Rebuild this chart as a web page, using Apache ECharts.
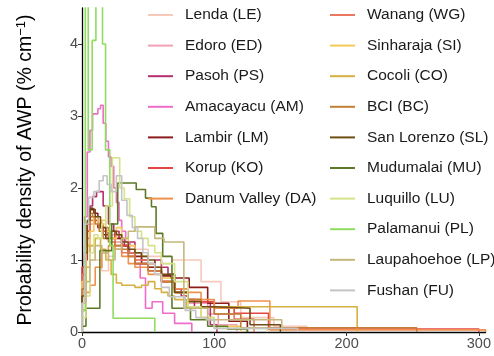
<!DOCTYPE html>
<html>
<head>
<meta charset="utf-8">
<script src="https://cdn.jsdelivr.net/npm/echarts@6/dist/echarts.min.js"></script>
<style>
  html, body { margin: 0; padding: 0; background: #fff; }
  #chart { width: 494px; height: 356px; }
</style>
</head>
<body>
<div id="chart"></div>
<script>
// site names and colours, legend order
const siteNames = ['Lenda (LE)', 'Edoro (ED)', 'Pasoh (PS)', 'Amacayacu (AM)', 'Lambir (LM)', 'Korup (KO)',
  'Danum Valley (DA)', 'Wanang (WG)', 'Sinharaja (SI)', 'Cocoli (CO)', 'BCI (BC)', 'San Lorenzo (SL)',
  'Mudumalai (MU)', 'Luquillo (LU)', 'Palamanui (PL)', 'Laupahoehoe (LP)', 'Fushan (FU)'];
const siteColors = ['#f7c9bb', '#f2a0b6', '#b52e6e', '#ef6dc8', '#8c1c1c', '#e64545',
  '#f0904e', '#e8785e', '#f6c85a', '#d6b040', '#c47e36', '#6e4c14',
  '#5c7a26', '#d6e28a', '#90dc60', '#c4b87a', '#c4c4c4'];

// bin edges (AWP, cm) and densities (% cm-1) for each site
const leEdges = [0, 3, 6, 10, 15, 20, 25, 30, 40, 50, 60, 68, 90, 105, 120, 145, 170];
const leDens = [0.5, 0.9, 1.2, 1.0, 0.85, 1.05, 1.25, 1.2, 1.15, 1.05, 0.95, 1.0, 0.7, 0.42, 0.2, 0.08];

const edEdges = [0, 3, 6, 9, 12, 16, 20, 25, 30, 35, 40, 50, 60, 70, 80, 95, 103, 117];
const edDens = [0.6, 1.2, 1.5, 1.6, 1.5, 1.4, 1.35, 1.25, 1.2, 1.1, 1.0, 0.9, 0.7, 0.55, 0.4, 0.25, 0.1];

const psEdges = [0, 2, 4, 6, 8, 11, 16, 20, 24, 28, 32, 36, 40, 45, 50, 55, 60, 65, 70, 75, 80, 85, 90, 97, 102];
const psDens = [0.5, 1.0, 1.5, 1.75, 1.88, 1.95, 1.75, 1.5, 1.4, 1.3, 1.2, 1.25, 1.1, 1.0, 0.95, 1.0, 0.9, 0.8, 0.6, 0.5, 0.45, 0.35, 0.42, 0.1];

const amEdges = [0, 2, 4, 6, 8, 10, 12, 14, 16, 18, 20, 22, 24, 26, 28, 30, 33, 36, 40, 44, 48, 53, 61, 70, 83];
const amDens = [0.6, 1.6, 2.5, 2.8, 3.03, 3.03, 3.1, 3.15, 2.9, 2.65, 2.43, 2.3, 2.0, 1.8, 1.55, 1.4, 1.25, 1.1, 0.95, 0.75, 0.33, 0.42, 0.26, 0.12];

const lmEdges = [0, 3, 6, 9, 12, 16, 20, 25, 30, 35, 40, 45, 50, 55, 60, 67, 81, 95, 111, 125];
const lmDens = [0.8, 1.5, 1.7, 1.65, 1.45, 1.35, 1.4, 1.3, 1.2, 1.1, 1.05, 0.95, 0.9, 0.85, 0.78, 0.75, 0.62, 0.4, 0.15];

const koEdges = [0, 3, 6, 9, 12, 16, 20, 25, 30, 35, 40, 50, 60, 70, 80, 90, 100, 115, 141, 300];
const koDens = [0.9, 1.4, 1.6, 1.55, 1.5, 1.4, 1.3, 1.35, 1.2, 1.05, 0.95, 0.85, 0.7, 0.6, 0.45, 0.42, 0.35, 0.26, 0.04];

const daEdges = [0, 3, 6, 10, 15, 20, 25, 30, 35, 40, 50, 60, 70, 80, 90, 100, 118, 142, 305];
const daDens = [0.3, 0.55, 0.65, 0.9, 1.1, 1.2, 1.15, 1.05, 0.95, 0.9, 0.8, 0.7, 0.6, 0.55, 0.45, 0.33, 0.43, 0.03];

const wgEdges = [0, 3, 6, 9, 12, 16, 20, 25, 30, 40, 50, 60, 70, 80, 90, 100, 115, 130];
const wgDens = [0.8, 1.3, 1.55, 1.6, 1.5, 1.45, 1.3, 1.2, 1.1, 1.0, 0.85, 0.7, 0.55, 0.45, 0.35, 0.25, 0.18];

const siEdges = [0, 3, 6, 9, 12, 15, 18, 22, 26, 30, 35, 40, 45, 50, 55, 60, 70, 80, 90, 100, 120];
const siDens = [0.7, 1.2, 1.4, 1.6, 1.5, 1.55, 1.4, 1.3, 1.45, 1.3, 1.2, 1.1, 1.05, 0.95, 0.9, 0.75, 0.55, 0.35, 0.2, 0.08];

const coEdges = [0, 3, 6, 10, 14, 18, 22, 26, 30, 35, 40, 45, 50, 55, 60, 65, 70, 79, 208];
const coDens = [0.5, 0.9, 1.2, 1.3, 1.15, 1.0, 0.8, 0.68, 0.65, 0.65, 0.62, 0.65, 0.7, 0.6, 0.55, 0.5, 0.45, 0.35];

const bcEdges = [0, 2, 4, 6, 8, 10, 13, 16, 20, 25, 30, 35, 40, 50, 60, 70, 80, 90, 100, 120, 253];
const bcDens = [0.6, 1.2, 1.5, 1.65, 1.6, 1.5, 1.4, 1.3, 1.25, 1.2, 1.15, 1.05, 0.95, 0.85, 0.7, 0.55, 0.45, 0.35, 0.25, 0.06];

const slEdges = [0, 2, 4, 6, 8, 10, 14, 18, 22, 26, 30, 35, 40, 45, 50, 55, 60, 70, 80, 90, 100, 127, 150];
const slDens = [0.5, 1.1, 1.55, 1.72, 1.7, 1.6, 1.45, 1.3, 1.4, 1.35, 1.25, 1.15, 1.1, 1.05, 1.0, 0.9, 0.8, 0.55, 0.42, 0.35, 0.33, 0.1];

const muEdges = [0, 3, 13.5, 22.5, 27, 41, 48, 52.5, 56, 61, 68, 82, 95, 110, 125];
const muDens = [0.08, 0.33, 1.13, 1.5, 2.07, 1.98, 1.86, 1.74, 1.37, 1.05, 0.33, 0.17, 0.08, 0.04];

const luEdges = [0, 3, 6, 9, 12, 15, 18, 23, 28.5, 32, 36, 40, 45, 50, 55, 60, 70, 80, 90, 100, 140];
const luDens = [0.2, 0.5, 1.1, 1.35, 1.3, 1.5, 1.75, 2.42, 2.0, 1.85, 1.6, 1.4, 1.3, 1.2, 1.1, 0.95, 0.7, 0.35, 0.2, 0.05];

const plEdges = [0, 2.5, 4.7, 7.7, 10.5, 15.5, 17.8, 21, 23.5, 55];
const plDens = [0.3, 5.5, 2.53, 4.05, 6.0, 4.0, 2.53, 1.2, 0.19];

const lpEdges = [0, 3, 6, 10, 15, 20, 25, 30, 35, 40, 55, 62, 77, 95, 151];
const lpDens = [0.4, 0.7, 1.0, 1.2, 1.1, 1.0, 1.15, 1.3, 1.4, 1.46, 1.3, 1.25, 0.33, 0.17];

const fuEdges = [0, 2, 5, 9, 13, 16, 19, 22, 26, 30, 34, 38, 42, 46, 50, 55, 60, 66, 72, 78, 86, 94, 100, 163];
const fuDens = [0.4, 1.5, 1.87, 1.95, 2.1, 2.17, 2.05, 1.95, 2.17, 1.83, 1.62, 1.45, 1.3, 1.1, 0.95, 0.8, 0.62, 0.49, 0.49, 0.3, 0.2, 0.17, 0.05];

const siteEdges = [leEdges, edEdges, psEdges, amEdges, lmEdges, koEdges, daEdges, wgEdges, siEdges,
  coEdges, bcEdges, slEdges, muEdges, luEdges, plEdges, lpEdges, fuEdges];
const siteDens = [leDens, edDens, psDens, amDens, lmDens, koDens, daDens, wgDens, siDens,
  coDens, bcDens, slDens, muDens, luDens, plDens, lpDens, fuDens];

const xTicks = [0, 100, 200, 300];
const yTicks = [0, 1, 2, 3, 4];

// histogram outline: rise at first edge, one point per bin, drop at last edge
function stepData(edges, dens) {
  const pts = [[edges[0], 0]];
  for (let i = 0; i < dens.length; i++) pts.push([edges[i], dens[i]]);
  pts.push([edges[edges.length - 1], 0]);
  return pts;
}

const series = siteNames.map((name, i) => ({
  name: name,
  type: 'line',
  step: 'end',
  symbol: 'none',
  data: stepData(siteEdges[i], siteDens[i]),
  lineStyle: { color: siteColors[i], width: 1.6 },
  itemStyle: { color: siteColors[i] }
}));

const legendBase = {
  orient: 'vertical',
  top: 7,
  padding: 0,
  itemWidth: 25,
  itemHeight: 14,
  itemGap: 14.6,
  icon: 'path://M0,6L25,6L25,8L0,8Z',
  textStyle: { fontFamily: 'Liberation Sans', fontSize: 15.5, color: '#1a1a1a', padding: [0, 0, 0, 7] }
};

const chart = echarts.init(document.getElementById('chart'));
chart.setOption({
  animation: false,
  backgroundColor: '#fff',
  textStyle: { fontFamily: 'Liberation Sans' },
  grid: { left: 82, right: 5, top: 8, bottom: 24 },
  legend: [
    Object.assign({}, legendBase, { left: 148, data: siteNames.slice(0, 7) }),
    Object.assign({}, legendBase, { left: 330, data: siteNames.slice(7) })
  ],
  xAxis: {
    type: 'value', min: 0, max: 305,
    axisLine: { lineStyle: { color: '#000', width: 1.3 } },
    axisTick: { length: 4, lineStyle: { color: '#333' }, customValues: xTicks },
    axisLabel: { color: '#4d4d4d', fontSize: 14.5, margin: 4, customValues: xTicks },
    splitLine: { show: false }
  },
  yAxis: {
    type: 'value', min: 0, max: 4.5,
    name: 'Probability density of AWP (% cm{sup|−1})',
    nameLocation: 'middle', nameRotate: 90, nameGap: 45,
    nameTextStyle: {
      fontSize: 19.5, color: '#000',
      rich: { sup: { fontSize: 13, verticalAlign: 'bottom', padding: [0, 0, 9, 0] } }
    },
    axisLine: { lineStyle: { color: '#000', width: 1.3 } },
    axisTick: { length: 4, lineStyle: { color: '#333' }, customValues: yTicks },
    axisLabel: { color: '#4d4d4d', fontSize: 14.5, margin: 4, customValues: yTicks },
    splitLine: { show: false }
  },
  series: series
});
</script>
</body>
</html>
